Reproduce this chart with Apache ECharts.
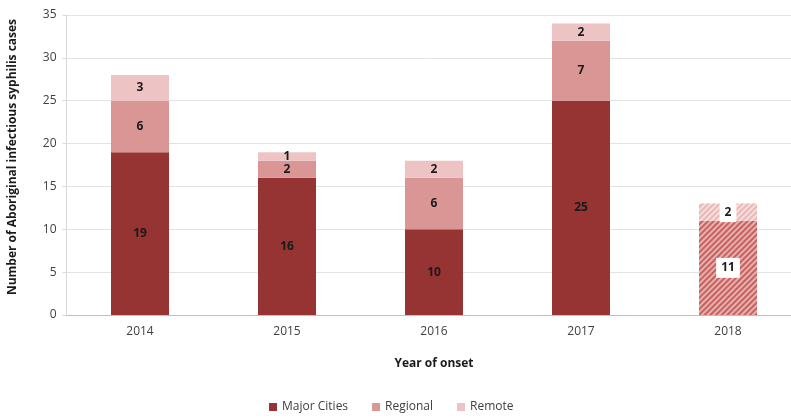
<!DOCTYPE html>
<html>
<head>
<meta charset="utf-8">
<script src="https://cdn.jsdelivr.net/npm/echarts@6/dist/echarts.min.js"></script>
<style>
html,body{margin:0;padding:0;background:#fff;}
#chart{width:791px;height:420px;}
</style>
</head>
<body>
<div id="chart"></div>
<script>
// Year of onset
const years = ['2014', '2015', '2016', '2017', '2018'];
// Cases by remoteness area
const majorCities = [19, 16, 10, 25, 11];
const regional = [6, 2, 6, 7, 0];
const remote = [3, 1, 2, 2, 2];
const yTicks = [0, 5, 10, 15, 20, 25, 30, 35];

const COL_MAJOR = '#963333';
const COL_REG = '#D99694';
const COL_REM = '#EDC4C3';
const FONT = '"Open Sans", "Liberation Sans", sans-serif';

// Latest year is provisional: drawn hatched with boxed labels
const provisional = '2018';
const hatchFill = {
  'Major Cities': { base: '#E8B0AF', lines: 'rgba(185,72,70,0.75)' },
  'Regional': { base: '#EEC8C7', lines: 'rgba(217,150,148,0.9)' },
  'Remote': { base: '#F6DEDD', lines: 'rgba(232,178,177,0.9)' }
};

function buildData(values, seriesName) {
  return values.map((v, i) => {
    const item = { value: v === 0 ? null : v };
    if (years[i] === provisional) {
      const h = hatchFill[seriesName];
      item.itemStyle = {
        color: h.base,
        decal: {
          symbol: 'rect',
          symbolSize: 1,
          dashArrayX: [1, 0],
          dashArrayY: [1.5, 1.5],
          rotation: -Math.PI / 4,
          color: h.lines
        }
      };
      item.label = { backgroundColor: '#fff', padding: [4, 5] };
    }
    return item;
  });
}

const labelStyle = {
  show: true,
  position: 'inside',
  color: '#1a1a1a',
  fontWeight: 'bold',
  fontSize: 12,
  fontFamily: FONT
};

const chart = echarts.init(document.getElementById('chart'), null, { renderer: 'canvas' });
chart.setOption({
  animation: false,
  textStyle: { fontFamily: FONT },
  grid: { left: 66.5, width: 735, top: 15, bottom: 105, outerBoundsMode: 'none', containLabel: false },
  xAxis: {
    type: 'category',
    data: years,
    axisLine: { show: true, lineStyle: { color: '#bfbfbf' } },
    axisTick: { show: false },
    axisLabel: { color: '#404040', fontSize: 12, margin: 11 },
    name: 'Year of onset',
    nameLocation: 'middle',
    nameGap: 43,
    nameTextStyle: { color: '#1a1a1a', fontWeight: 'bold', fontSize: 12 }
  },
  yAxis: {
    type: 'value',
    min: yTicks[0],
    max: yTicks[yTicks.length - 1],
    interval: 5,
    axisLine: { show: true, lineStyle: { color: '#d9d9d9' } },
    axisTick: { show: true, length: 4, lineStyle: { color: '#d9d9d9' } },
    axisLabel: { color: '#404040', fontSize: 12, margin: 10 },
    splitLine: { lineStyle: { color: '#e3e3e3' } },
    name: 'Number of Aboriginal infectious syphilis cases',
    nameLocation: 'middle',
    nameRotate: 90,
    nameGap: 48,
    nameTextStyle: { color: '#1a1a1a', fontWeight: 'bold', fontSize: 12, padding: [0, 0, 0, 16] }
  },
  legend: {
    bottom: 2,
    left: 264,
    itemWidth: 8,
    itemHeight: 8,
    itemGap: 24,
    icon: 'rect',
    textStyle: { color: '#404040', fontSize: 12 },
    data: ['Major Cities', 'Regional', 'Remote']
  },
  series: [
    { name: 'Major Cities', type: 'bar', stack: 'total', barWidth: 58,
      itemStyle: { color: COL_MAJOR }, label: labelStyle,
      data: buildData(majorCities, 'Major Cities') },
    { name: 'Regional', type: 'bar', stack: 'total', barWidth: 58,
      itemStyle: { color: COL_REG }, label: labelStyle,
      data: buildData(regional, 'Regional') },
    { name: 'Remote', type: 'bar', stack: 'total', barWidth: 58,
      itemStyle: { color: COL_REM }, label: labelStyle,
      data: buildData(remote, 'Remote') }
  ]
});
</script>
</body>
</html>
